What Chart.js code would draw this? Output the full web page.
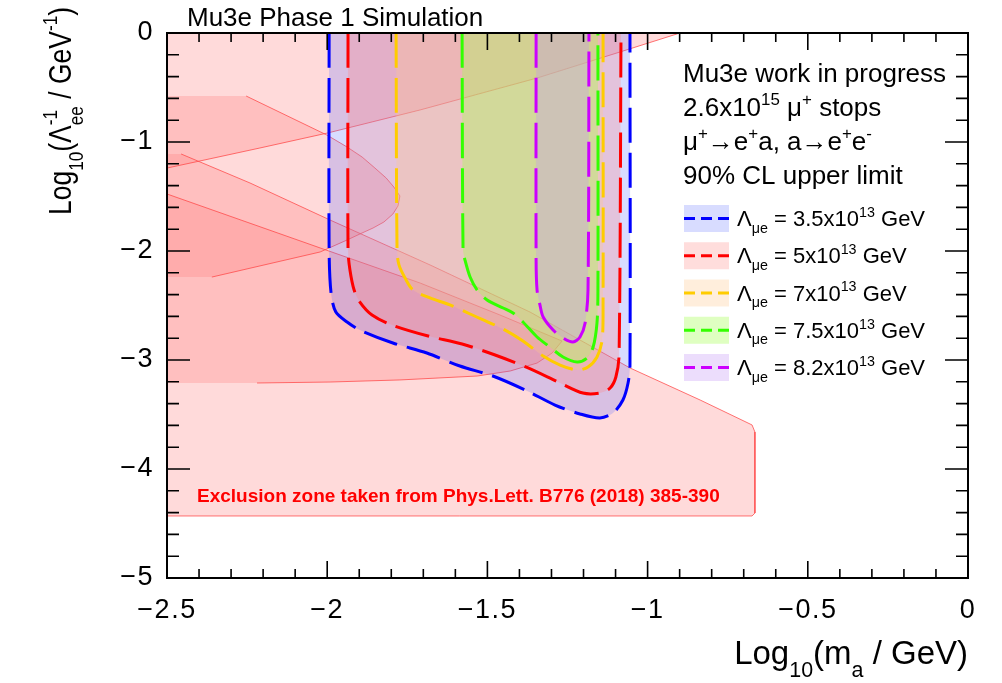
<!DOCTYPE html>
<html>
<head>
<meta charset="utf-8">
<script src="https://cdn.jsdelivr.net/npm/chart.js@4.4.1/dist/chart.umd.min.js"></script>
<style>
html,body{margin:0;padding:0;background:#fff;}
#wrap{width:1002px;height:683px;position:relative;}
</style>
</head>
<body>
<div id="wrap"><canvas id="c" width="1002" height="683"></canvas></div>
<script>
const FONT = '"Liberation Sans", Arial, Helvetica, sans-serif';

// ---- axis ticks ----
const xTickValues = [-2.5, -2, -1.5, -1, -0.5, 0];
const xTickLabels = ['\u22122.5', '\u22122', '\u22121.5', '\u22121', '\u22120.5', '0'];
const yTickValues = [-5, -4, -3, -2, -1, 0];
const yTickLabels = ['\u22125', '\u22124', '\u22123', '\u22122', '\u22121', '0'];

// ---- exclusion zones (Phys.Lett. B776 (2018) 385-390) ----
const exclA_X = [-2.5, -2.397, -2.210, -1.998, -1.710, -1.345, -1.086, -0.899];
const exclA_Y = [-1.239, -1.174, -1.055, -0.917, -0.706, -0.413, -0.174, 0];

const exclB_X = [-2.253, -2.001, -1.938, -1.891, -1.851, -1.816, -1.792, -1.773, -1.779, -1.795, -1.823, -1.857, -1.898, -1.938, -2.022, -2.360];
const exclB_Y = [-0.578, -0.936, -1.046, -1.138, -1.239, -1.330, -1.413, -1.495, -1.587, -1.661, -1.734, -1.789, -1.844, -1.899, -2.009, -2.239];

const exclD_X = [-2.456, -2.241, -1.991, -1.679, -1.367, -1.055, -0.836, -0.674, -0.665, -0.665, -0.674, -2.5];
const exclD_Y = [-1.110, -1.376, -1.716, -2.128, -2.560, -3.073, -3.367, -3.596, -3.661, -4.404, -4.431, -4.431];

const exclF_X = [-2.5, -2.022, -1.710, -1.461, -1.267, -1.298, -1.345, -1.429, -1.532, -1.773, -1.991, -2.219];
const exclF_Y = [-1.477, -1.972, -2.294, -2.587, -2.826, -2.936, -3.028, -3.101, -3.147, -3.183, -3.202, -3.211];

// ---- Mu3e 90% CL contours ----
const seriesLambda = ['3.5', '5', '7', '7.5', '8.2'];

const blueX = [-1.994, -1.994, -1.988, -1.973, -1.938, -1.898, -1.795, -1.689, -1.586, -1.483, -1.376, -1.289, -1.211, -1.149, -1.108, -1.077, -1.061, -1.055, -1.055];
const blueY = [0, -1.991, -2.385, -2.560, -2.651, -2.725, -2.844, -2.936, -3.055, -3.147, -3.284, -3.413, -3.495, -3.532, -3.486, -3.367, -3.211, -3.046, 0];

const redX = [-1.935, -1.935, -1.929, -1.916, -1.898, -1.860, -1.798, -1.685, -1.579, -1.476, -1.373, -1.273, -1.202, -1.149, -1.117, -1.099, -1.089, -1.083];
const redY = [0, -1.991, -2.174, -2.358, -2.468, -2.587, -2.679, -2.780, -2.853, -2.954, -3.073, -3.211, -3.303, -3.303, -3.257, -3.156, -2.954, 0];

const orangeX = [-1.785, -1.782, -1.776, -1.757, -1.732, -1.679, -1.617, -1.554, -1.451, -1.389, -1.326, -1.273, -1.220, -1.186, -1.158, -1.142, -1.139, -1.139];
const orangeY = [0, -1.991, -2.128, -2.248, -2.358, -2.431, -2.495, -2.578, -2.716, -2.826, -2.963, -3.046, -3.092, -3.064, -2.972, -2.817, -2.495, 0];

const greenX = [-1.579, -1.576, -1.570, -1.554, -1.532, -1.501, -1.451, -1.420, -1.389, -1.345, -1.305, -1.264, -1.220, -1.189, -1.170, -1.158, -1.155, -1.155];
const greenY = [0, -1.991, -2.083, -2.239, -2.358, -2.450, -2.523, -2.569, -2.651, -2.789, -2.881, -2.972, -3.018, -2.982, -2.881, -2.661, -2.358, 0];

const purpleX = [-1.348, -1.348, -1.345, -1.336, -1.326, -1.295, -1.264, -1.233, -1.211, -1.195, -1.186, -1.183];
const purpleY = [0, -2.083, -2.358, -2.495, -2.606, -2.725, -2.798, -2.835, -2.789, -2.661, -2.358, 0];

// ---- styles ----
const PINK_FILL = 'rgba(255,120,120,0.27)';
const PINK_LINE = 'rgba(255,70,70,0.75)';
const contourLine = ['#0000ff', '#ff0000', '#ffcc00', '#33ff00', '#cc00ff'];
const contourFill = ['rgba(90,110,255,0.24)', 'rgba(255,130,125,0.27)', 'rgba(255,200,140,0.30)', 'rgba(164,255,76,0.35)', 'rgba(193,143,245,0.30)'];
const contourX = [blueX, redX, orangeX, greenX, purpleX];
const contourY = [blueY, redY, orangeY, greenY, purpleY];

function pts(xs, ys) { return xs.map((x, i) => ({x: x, y: ys[i]})); }

const datasets = [];
// exclusion fills
datasets.push({data: [{x: -2.5, y: 0}].concat(pts(exclA_X, exclA_Y)), fill: 'shape', backgroundColor: PINK_FILL, borderColor: 'rgba(0,0,0,0)', borderWidth: 0, order: 100});
datasets.push({data: [{x: -2.5, y: exclB_Y[0]}].concat(pts(exclB_X, exclB_Y), [{x: -2.5, y: exclB_Y[exclB_Y.length - 1]}]), fill: 'shape', backgroundColor: PINK_FILL, borderColor: 'rgba(0,0,0,0)', borderWidth: 0, order: 101});
datasets.push({data: [{x: -2.5, y: exclD_Y[0]}].concat(pts(exclD_X, exclD_Y)), fill: 'shape', backgroundColor: PINK_FILL, borderColor: 'rgba(0,0,0,0)', borderWidth: 0, order: 102});
datasets.push({data: pts(exclF_X, exclF_Y).concat([{x: -2.5, y: exclF_Y[exclF_Y.length - 1]}]), fill: 'shape', backgroundColor: PINK_FILL, borderColor: 'rgba(0,0,0,0)', borderWidth: 0, order: 103});
// exclusion outlines
[[exclA_X, exclA_Y], [exclB_X, exclB_Y], [exclD_X, exclD_Y], [exclF_X, exclF_Y]].forEach(function (p) {
  datasets.push({data: pts(p[0], p[1]), fill: false, borderColor: PINK_LINE, borderWidth: 1, order: 90});
});
// contours
for (let i = 0; i < 5; i++) {
  datasets.push({
    label: '\u039b\u03bce = ' + seriesLambda[i] + 'x10^13 GeV',
    data: pts(contourX[i], contourY[i]),
    fill: 'shape', backgroundColor: contourFill[i],
    borderColor: contourLine[i], borderWidth: 3, borderDash: [35, 10],
    tension: 0.3, order: 50 - i * 10
  });
}

// ---- rich text helpers ----
function fnt(size, bold) { return (bold ? 'bold ' : '') + size + 'px ' + FONT; }
function richWidth(ctx, parts, size) {
  let w = 0;
  for (const p of parts) {
    if (!p.m) { ctx.font = fnt(size); w += ctx.measureText(p.t).width; }
    else if (p.m === 'ss') { ctx.font = fnt(size * 0.65); w += Math.max(ctx.measureText(p.t).width, ctx.measureText(p.b).width); }
    else { ctx.font = fnt(size * 0.65); w += ctx.measureText(p.t).width; }
  }
  return w;
}
function drawRich(ctx, x, y, parts, size, subOff, supOff) {
  let cx = x;
  ctx.textAlign = 'left';
  ctx.textBaseline = 'alphabetic';
  for (const p of parts) {
    if (!p.m) {
      ctx.font = fnt(size); ctx.fillText(p.t, cx, y); cx += ctx.measureText(p.t).width;
    } else if (p.m === 'sup') {
      ctx.font = fnt(size * 0.65); ctx.fillText(p.t, cx, y - size * supOff); cx += ctx.measureText(p.t).width;
    } else if (p.m === 'sub') {
      ctx.font = fnt(size * 0.65); ctx.fillText(p.t, cx, y + size * subOff); cx += ctx.measureText(p.t).width;
    } else if (p.m === 'ss') {
      ctx.font = fnt(size * 0.65);
      ctx.fillText(p.t, cx, y - size * supOff);
      ctx.fillText(p.b, cx, y + size * subOff);
      cx += Math.max(ctx.measureText(p.t).width, ctx.measureText(p.b).width);
    }
  }
  return cx;
}

const spacing = {
  id: 'spacing',
  beforeDraw(chart) { if ('letterSpacing' in chart.ctx) chart.ctx.letterSpacing = '1.5px'; },
  beforeDatasetsDraw(chart) { if ('letterSpacing' in chart.ctx) chart.ctx.letterSpacing = '0px'; }
};

const decor = {
  id: 'decor',
  afterDraw(chart) {
    const ctx = chart.ctx;
    if ('letterSpacing' in ctx) ctx.letterSpacing = '0px';
    const {left, right, top, bottom} = chart.chartArea;
    const xs = chart.scales.x, ys = chart.scales.y;
    ctx.save();
    // ticks on all four sides
    ctx.strokeStyle = '#000';
    ctx.lineWidth = 1.6;
    ctx.beginPath();
    for (let i = 0; i <= 25; i++) {
      const v = -2.5 + i * 0.1;
      const p = xs.getPixelForValue(v);
      const L = (i % 5 === 0) ? 17 : 9;
      ctx.moveTo(p, bottom); ctx.lineTo(p, bottom - L);
      ctx.moveTo(p, top); ctx.lineTo(p, top + L);
    }
    for (let i = 0; i <= 25; i++) {
      const v = -5 + i * 0.2;
      const p = ys.getPixelForValue(v);
      const L = (i % 5 === 0) ? 23 : 12;
      ctx.moveTo(left, p); ctx.lineTo(left + L, p);
      ctx.moveTo(right, p); ctx.lineTo(right - L, p);
    }
    ctx.stroke();
    ctx.lineWidth = 2;
    ctx.strokeRect(left, top, right - left, bottom - top);

    ctx.fillStyle = '#000';
    // title
    ctx.font = fnt(26);
    ctx.textAlign = 'left'; ctx.textBaseline = 'alphabetic';
    ctx.fillText('Mu3e Phase 1 Simulation', 187, 26);

    // x axis title (right-aligned)
    const xt = [{t: 'Log'}, {t: '10', m: 'sub'}, {t: '(m'}, {t: 'a', m: 'sub'}, {t: ' / GeV)'}];
    const xw = richWidth(ctx, xt, 33);
    drawRich(ctx, right - xw, 664, xt, 33, 0.40, 0.42);

    // y axis title (rotated, right-aligned to top, condensed)
    const yt = [{t: 'Log'}, {t: '10', m: 'sub'}, {t: '(\u039b'}, {t: '-1', b: 'ee', m: 'ss'}, {t: ' / GeV'}, {t: '-1', m: 'sup'}, {t: ')'}];
    const ySize = 31;
    const yw = richWidth(ctx, yt, ySize);
    const yLen = 208;
    ctx.save();
    ctx.translate(71, 7 + yLen);
    ctx.rotate(-Math.PI / 2);
    ctx.scale(yLen / yw, 1);
    drawRich(ctx, 0, 0, yt, ySize, 0.40, 0.45);
    ctx.restore();

    // exclusion note
    ctx.fillStyle = '#ff0000';
    ctx.font = fnt(19, true);
    ctx.fillText('Exclusion zone taken from Phys.Lett. B776 (2018) 385-390', 197, 502);

    // legend header
    ctx.fillStyle = '#000';
    const lx = 683;
    drawRich(ctx, lx, 82, [{t: 'Mu3e work in progress'}], 26, 0.3, 0.42);
    drawRich(ctx, lx, 116, [{t: '2.6x10'}, {t: '15', m: 'sup'}, {t: ' \u03bc'}, {t: '+', m: 'sup'}, {t: ' stops'}], 26, 0.3, 0.42);
    drawRich(ctx, lx, 150, [{t: '\u03bc'}, {t: '+', m: 'sup'}, {t: '\u2192e'}, {t: '+', m: 'sup'}, {t: 'a, a\u2192e'}, {t: '+', m: 'sup'}, {t: 'e'}, {t: '-', m: 'sup'}], 26, 0.3, 0.42);
    drawRich(ctx, lx, 184, [{t: '90% CL upper limit'}], 26, 0.3, 0.42);

    // legend entries
    for (let i = 0; i < 5; i++) {
      const by = 205 + i * 37.25;
      ctx.fillStyle = '#fff';
      ctx.fillRect(684, by, 45, 27);
      ctx.fillStyle = contourFill[i];
      ctx.fillRect(684, by, 45, 27);
      ctx.save();
      ctx.strokeStyle = contourLine[i];
      ctx.lineWidth = 3;
      ctx.setLineDash([11, 6]);
      ctx.beginPath();
      ctx.moveTo(684, by + 13.5); ctx.lineTo(729, by + 13.5);
      ctx.stroke();
      ctx.restore();
      ctx.fillStyle = '#000';
      drawRich(ctx, 737, by + 21, [{t: '\u039b'}, {t: '\u03bce', m: 'sub'}, {t: ' = ' + seriesLambda[i] + 'x10'}, {t: '13', m: 'sup'}, {t: ' GeV'}], 22, 0.3, 0.42);
    }
    ctx.restore();
  }
};

new Chart(document.getElementById('c'), {
  type: 'scatter',
  data: {datasets: datasets},
  options: {
    responsive: false,
    animation: false,
    devicePixelRatio: 1,
    events: [],
    showLine: true,
    elements: {point: {radius: 0, hoverRadius: 0}, line: {tension: 0}},
    layout: {padding: {left: 0, right: 34, top: 33, bottom: 0}},
    plugins: {legend: {display: false}, tooltip: {enabled: false}, title: {display: false}},
    scales: {
      x: {
        type: 'linear', position: 'bottom', min: -2.5, max: 0,
        grid: {display: false, drawTicks: false}, border: {display: false},
        afterBuildTicks: function (s) { s.ticks = xTickValues.map(v => ({value: v})); },
        afterFit: function (s) { s.height = 105; },
        ticks: {
          autoSkip: false, maxRotation: 0, padding: 16, color: '#000',
          font: {family: FONT, size: 27},
          callback: function (v, i) { return xTickLabels[i]; }
        }
      },
      y: {
        type: 'linear', position: 'left', min: -5, max: 0,
        grid: {display: false, drawTicks: false}, border: {display: false},
        afterBuildTicks: function (s) { s.ticks = yTickValues.map(v => ({value: v})); },
        afterFit: function (s) { s.width = 167; },
        ticks: {
          autoSkip: false, padding: 13, color: '#000',
          font: {family: FONT, size: 27},
          callback: function (v, i) { return yTickLabels[i]; }
        }
      }
    }
  },
  plugins: [spacing, decor]
});
</script>
</body>
</html>
